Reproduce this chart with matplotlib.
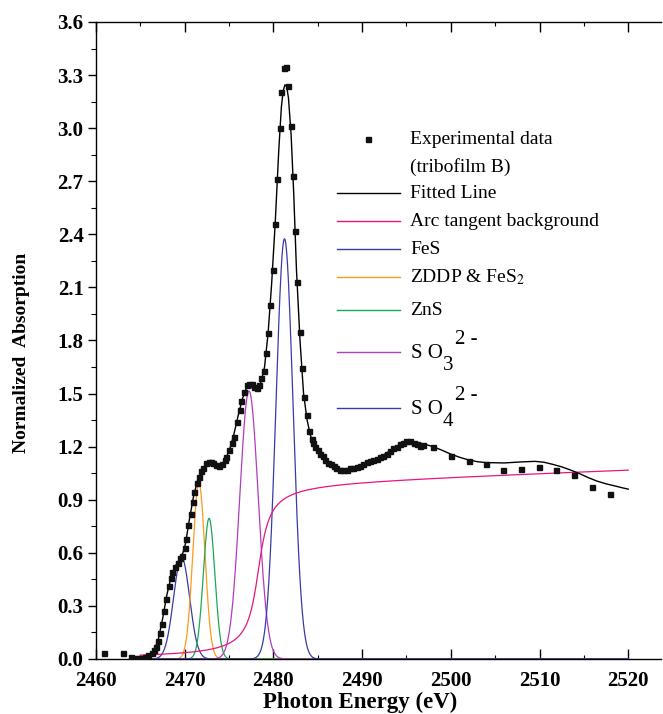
import numpy as np
import matplotlib
matplotlib.use("Agg")
import matplotlib.pyplot as plt
from matplotlib.ticker import MultipleLocator

plt.rcParams["font.family"] = ["Liberation Serif", "DejaVu Serif"]
plt.rcParams["mathtext.fontset"] = "stix"

# Experimental sulfur K-edge XANES (tribofilm B)
exp_energy = [
    2460.9, 2463.0, 2463.9, 2464.4, 2464.8, 2465.1, 2465.5, 2465.9, 2466.3, 2466.5,
    2466.8, 2467.0, 2467.2, 2467.4, 2467.7, 2467.9, 2468.2, 2468.4, 2468.6, 2468.9,
    2469.2, 2469.5, 2469.7, 2470.0, 2470.2, 2470.4, 2470.7, 2470.9, 2471.1, 2471.35,
    2471.6, 2471.8, 2472.1, 2472.4, 2472.7, 2473.0, 2473.2, 2473.5, 2473.9, 2474.2,
    2474.5, 2474.7, 2475.0, 2475.3, 2475.6, 2475.9, 2476.2, 2476.4, 2476.7, 2477.0,
    2477.3, 2477.55, 2477.85, 2478.15, 2478.4, 2478.6, 2478.9, 2479.2, 2479.4, 2479.65,
    2479.9, 2480.2, 2480.4, 2480.7, 2480.9, 2481.15, 2481.4, 2481.7, 2481.95, 2482.2,
    2482.4, 2482.65, 2482.95, 2483.2, 2483.4, 2483.75, 2484.0, 2484.3, 2484.5, 2484.7,
    2485.0, 2485.25, 2485.55, 2485.85, 2486.2, 2486.5, 2486.8, 2487.1, 2487.5, 2487.9,
    2488.25, 2488.6, 2489.0, 2489.4, 2489.8, 2490.1, 2490.5, 2490.9, 2491.25, 2491.65,
    2492.0, 2492.4, 2492.8, 2493.1, 2493.5, 2493.9, 2494.3, 2494.6, 2495.0, 2495.4,
    2495.8, 2496.15, 2496.5, 2496.9, 2498.0, 2500.0, 2502.0, 2504.0, 2505.9, 2507.9,
    2509.9, 2511.9, 2513.9, 2515.9, 2517.9,
]
exp_absorption = [
    0.035, 0.035, 0.013, 0.008, 0.004, 0.008, 0.013, 0.020, 0.035, 0.050,
    0.070, 0.100, 0.145, 0.200, 0.270, 0.340, 0.410, 0.455, 0.490, 0.520,
    0.540, 0.570, 0.580, 0.630, 0.680, 0.760, 0.820, 0.890, 0.945, 0.995,
    1.030, 1.060, 1.080, 1.105, 1.115, 1.115, 1.105, 1.095, 1.090, 1.100,
    1.125, 1.140, 1.180, 1.220, 1.255, 1.340, 1.405, 1.460, 1.510, 1.550,
    1.555, 1.555, 1.540, 1.530, 1.550, 1.590, 1.630, 1.730, 1.840, 2.000,
    2.200, 2.460, 2.715, 3.000, 3.205, 3.340, 3.345, 3.240, 3.010, 2.730,
    2.420, 2.130, 1.850, 1.645, 1.480, 1.380, 1.290, 1.245, 1.220, 1.200,
    1.180, 1.160, 1.145, 1.125, 1.110, 1.100, 1.090, 1.077, 1.070, 1.070,
    1.070, 1.077, 1.080, 1.086, 1.090, 1.100, 1.115, 1.120, 1.125, 1.130,
    1.140, 1.147, 1.160, 1.175, 1.190, 1.200, 1.215, 1.220, 1.230, 1.230,
    1.220, 1.215, 1.205, 1.210, 1.200, 1.145, 1.120, 1.100, 1.070, 1.075,
    1.087, 1.070, 1.040, 0.970, 0.930,
]

# Overall fitted curve
fit_energy = [
    2465.0, 2465.5, 2466.0, 2466.5, 2467.0, 2467.5, 2468.0, 2468.5, 2469.0, 2469.5,
    2469.8, 2470.1, 2470.5, 2471.0, 2471.5, 2472.0, 2472.5, 2473.0, 2473.5, 2474.0,
    2474.5, 2475.0, 2475.5, 2476.0, 2476.5, 2477.0, 2477.4, 2477.8, 2478.2, 2478.6,
    2479.0, 2479.4, 2479.8, 2480.2, 2480.6, 2480.9, 2481.1, 2481.3, 2481.5, 2481.7,
    2482.0, 2482.3, 2482.6, 2483.0, 2483.4, 2483.8, 2484.2, 2484.7, 2485.3, 2486.0,
    2487.0, 2488.0, 2489.0, 2490.0, 2491.0, 2492.0, 2493.0, 2494.0, 2495.0, 2496.0,
    2497.0, 2498.0, 2499.0, 2500.0, 2501.0, 2502.0, 2503.0, 2504.0, 2506.0, 2508.0,
    2509.5, 2510.5, 2511.5, 2512.5, 2513.5, 2514.5, 2515.5, 2516.5, 2517.5, 2518.5,
    2519.3, 2520.0,
]
fit_absorption = [
    0.000, 0.006, 0.018, 0.045, 0.105, 0.225, 0.365, 0.470, 0.530, 0.570,
    0.600, 0.655, 0.780, 0.920, 1.020, 1.075, 1.105, 1.110, 1.095, 1.090,
    1.120, 1.175, 1.260, 1.370, 1.470, 1.535, 1.550, 1.540, 1.530, 1.565,
    1.650, 1.840, 2.120, 2.460, 2.870, 3.120, 3.210, 3.245, 3.235, 3.170,
    2.960, 2.620, 2.200, 1.800, 1.500, 1.350, 1.260, 1.200, 1.155, 1.115,
    1.080, 1.072, 1.080, 1.100, 1.120, 1.140, 1.172, 1.205, 1.228, 1.225,
    1.215, 1.200, 1.180, 1.158, 1.140, 1.125, 1.115, 1.110, 1.108, 1.114,
    1.117, 1.112, 1.100, 1.086, 1.068, 1.048, 1.025, 1.005, 0.990, 0.978,
    0.968, 0.960,
]

# Gaussian components: centre (eV), height, sigma (eV)
peak_labels = ["FeS", "ZDDP & FeS$_2$", "ZnS", "SO3", "SO4"]
peak_centers = [2469.65, 2471.6, 2472.75, 2477.25, 2481.25]
peak_heights = [0.575, 0.995, 0.795, 1.515, 2.375]
peak_sigmas = [0.90, 0.68, 0.65, 1.04, 0.96]
peak_colors = ["#3b3ba8", "#ff9a1a", "#1aaa55", "#b23cc0", "#3a3aa5"]

# Arc tangent edge step: centre, width, step height, post-edge slope
bg_center = 2478.3
bg_width = 0.95
bg_step = 1.0
bg_slope = 0.0018
bg_color = "#e8157f"

W, H = 663, 714
fig = plt.figure(figsize=(W / 100, H / 100), dpi=100)
ax_l, ax_r, ax_t, ax_b = 96, 661, 22, 659
ax = fig.add_axes([ax_l / W, 1 - ax_b / H, (ax_r - ax_l) / W, (ax_b - ax_t) / H])

e = np.linspace(2465.0, 2520.0, 1200)
for c, h, s, col in zip(peak_centers, peak_heights, peak_sigmas, peak_colors):
    ax.plot(e, h * np.exp(-0.5 * ((e - c) / s) ** 2), color=col, lw=0.9, zorder=2)

bg = (bg_step + bg_slope * (e - bg_center)) * (0.5 + np.arctan((e - bg_center) / bg_width) / np.pi)
ax.plot(e, bg, color=bg_color, lw=0.9, zorder=2)

ax.plot(fit_energy, fit_absorption, color="black", lw=1.0, zorder=3)
ax.plot(exp_energy, exp_absorption, ls="none", marker="s", ms=3.6, color="#111111", zorder=4)

ax.set_xlim(2460, 2460 + (ax_r - ax_l) / 8.87)
ax.set_ylim(0, 3.6)
ax.xaxis.set_major_locator(MultipleLocator(10))
ax.xaxis.set_minor_locator(MultipleLocator(5))
ax.yaxis.set_major_locator(MultipleLocator(0.3))
ax.yaxis.set_minor_locator(MultipleLocator(0.15))
ax.yaxis.set_major_formatter(matplotlib.ticker.FormatStrFormatter("%.1f"))
ax.spines["right"].set_visible(False)
for sp in ax.spines.values():
    sp.set_linewidth(1.0)

ax.tick_params(axis="x", which="both", direction="in", top=True, bottom=True)
ax.tick_params(axis="x", which="major", length=7, width=1.0, pad=9)
ax.tick_params(axis="x", which="minor", length=3, width=0.8)
ax.tick_params(axis="y", which="both", direction="out", right=False)
ax.tick_params(axis="y", which="major", length=6, width=1.0, pad=3)
ax.tick_params(axis="y", which="minor", length=3.5, width=0.8)
for lab in ax.get_xticklabels() + ax.get_yticklabels():
    lab.set_fontweight("bold")
    lab.set_fontsize(15)

fig.text(360 / W, 1 - 708 / H, "Photon Energy (eV)", ha="center", va="baseline",
         fontsize=16.5, fontweight="bold")
fig.text(22 / W, 1 - 353 / H, "Normalized  Absorption", ha="center", va="center",
         rotation=90, fontsize=14, fontweight="bold")


def px(x, y):
    return ((x - ax_l) / (ax_r - ax_l), (ax_b - y) / (ax_b - ax_t))


fs = 14
# Legend entries
mx, my = px(368, 139)
ax.plot([mx], [my], marker="s", ms=3.6, color="#111111", transform=ax.transAxes, clip_on=False)
ax.text(*px(410, 139), "Experimental data", transform=ax.transAxes, va="center", fontsize=fs)
ax.text(*px(410, 167), "(tribofilm B)", transform=ax.transAxes, va="center", fontsize=fs)

legend_rows = [
    (193, "black", "Fitted Line"),
    (221, bg_color, "Arc tangent background"),
    (249, peak_colors[0], peak_labels[0]),
    (277, peak_colors[1], peak_labels[1]),
    (310, peak_colors[2], peak_labels[2]),
    (352, peak_colors[3], None),
    (408, peak_colors[4], None),
]
for y, col, lab in legend_rows:
    x0, yy = px(337, y)
    x1, _ = px(400, y)
    ax.plot([x0, x1], [yy, yy], color=col, lw=1.0, transform=ax.transAxes, clip_on=False)
    if lab is not None:
        ax.text(*px(410, y), lab, transform=ax.transAxes, va="center", fontsize=fs)

for y, sub in [(352, "3"), (408, "4")]:
    ax.text(*px(411, y + 1), "S O", transform=ax.transAxes, va="center", fontsize=15)
    ax.text(*px(443, y + 13), sub, transform=ax.transAxes, va="center", fontsize=15)
    ax.text(*px(455, y - 13), "2 -", transform=ax.transAxes, va="center", fontsize=15)

fig.savefig("out.png", dpi=100)
